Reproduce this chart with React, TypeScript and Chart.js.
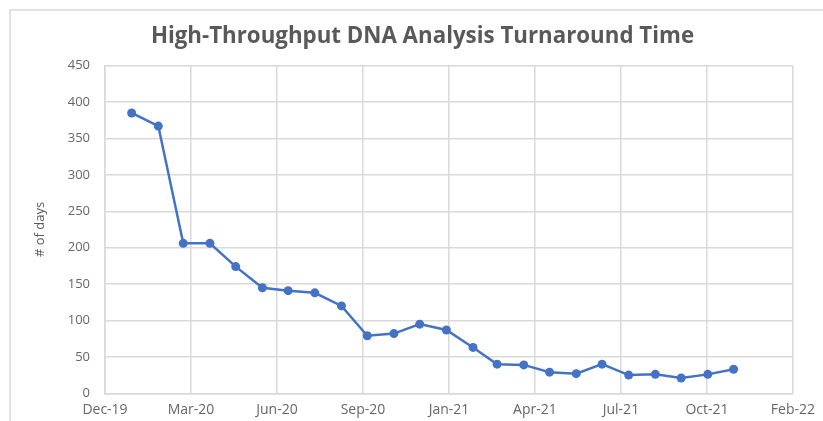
import React, { useEffect, useRef } from "react";
import { Chart, registerables } from "chart.js";

Chart.register(...registerables);

const chartTitle = "High-Throughput DNA Analysis Turnaround Time";
const yAxisTitle = "# of days";

// x axis: Excel date axis starting 1 Dec 2019, major unit 100 days
const axisStartDate = "2019-12-01";
const axisStepDays = 100;
const xTickLabels = ["Dec-19", "Mar-20", "Jun-20", "Sep-20", "Jan-21", "Apr-21", "Jul-21", "Oct-21", "Feb-22"];

const yMin = 0;
const yMax = 450;
const yStep = 50;

const sampleDates = [
  "2020-01-01", "2020-02-01", "2020-03-01", "2020-04-01", "2020-05-01", "2020-06-01",
  "2020-07-01", "2020-08-01", "2020-09-01", "2020-10-01", "2020-11-01", "2020-12-01",
  "2021-01-01", "2021-02-01", "2021-03-01", "2021-04-01", "2021-05-01", "2021-06-01",
  "2021-07-01", "2021-08-01", "2021-09-01", "2021-10-01", "2021-11-01", "2021-12-01",
];

const turnaroundDays = [
  385, 367, 206, 206, 174, 145,
  141, 138, 120, 79, 82, 95,
  87, 63, 40, 39, 29, 27,
  40, 25, 26, 21, 26, 33,
];

const dayOffset = (iso: string) => (Date.parse(iso) - Date.parse(axisStartDate)) / 86400000;

const frameBorder = {
  id: "frameBorder",
  beforeDraw(chart: any) {
    const ctx = chart.ctx;
    ctx.save();
    ctx.strokeStyle = "#d9d9d9";
    ctx.lineWidth = 1.5;
    ctx.beginPath();
    ctx.moveTo(10, chart.height + 5);
    ctx.lineTo(10, 10);
    ctx.lineTo(chart.width + 5, 10);
    ctx.stroke();
    ctx.restore();
  },
};

export default function App() {
  const canvasRef = useRef<HTMLCanvasElement | null>(null);

  useEffect(() => {
    const canvas = canvasRef.current;
    if (!canvas) return;
    const gridColor = "#d9d9d9";
    const tickColor = "#666666";
    const chart = new Chart(canvas, {
      type: "line",
      data: {
        datasets: [
          {
            label: "Turnaround time",
            data: sampleDates.map((d, i) => ({ x: dayOffset(d), y: turnaroundDays[i] })),
            borderColor: "#4472C4",
            backgroundColor: "#4472C4",
            borderWidth: 2.5,
            pointRadius: 4.5,
            pointBorderWidth: 0,
            pointBackgroundColor: "#4472C4",
            tension: 0,
            fill: false,
          },
        ],
      },
      options: {
        animation: false,
        responsive: true,
        maintainAspectRatio: false,
        layout: { padding: { left: 22, right: 0, top: 0, bottom: 0 } },
        plugins: {
          legend: { display: false },
          tooltip: { enabled: false },
          title: {
            display: true,
            text: chartTitle,
            color: "#595959",
            font: { family: "'Open Sans'", size: 22.3, weight: "bold" },
            padding: { top: 23, bottom: 15.9 },
          },
        },
        scales: {
          x: {
            type: "linear",
            min: 0,
            max: axisStepDays * (xTickLabels.length - 1),
            grid: { color: gridColor, lineWidth: 1.5, drawTicks: false },
            border: { color: gridColor, width: 1.5 },
            ticks: {
              stepSize: axisStepDays,
              autoSkip: false,
              maxRotation: 0,
              padding: 8,
              color: tickColor,
              font: { family: "'Open Sans'", size: 14 },
              callback: (_v: any, i: number) => xTickLabels[i] ?? "",
            },
            afterFit: (s: any) => {
              s.height = 27.7;
            },
          },
          y: {
            type: "linear",
            position: "left",
            min: yMin,
            max: yMax,
            grid: { color: gridColor, lineWidth: 1.5, drawTicks: false },
            border: { color: gridColor, width: 1.5 },
            ticks: {
              stepSize: yStep,
              padding: 15,
              color: tickColor,
              font: { family: "'Open Sans'", size: 13 },
            },
            title: {
              display: true,
              text: yAxisTitle,
              color: "#595959",
              font: { family: "'Open Sans'", size: 13 },
              padding: { top: 10, bottom: 0 },
            },
            afterFit: (s: any) => {
              s.width = 83;
            },
          },
          yPad: {
            type: "linear",
            position: "right",
            display: true,
            grid: { display: false, drawTicks: false },
            border: { display: false },
            ticks: { display: false },
            afterFit: (s: any) => {
              s.width = 30;
            },
          },
        },
      } as any,
      plugins: [frameBorder],
    });
    return () => chart.destroy();
  }, []);

  return (
    <div style={{ position: "fixed", left: 0, top: 0, width: 823, height: 421, overflow: "hidden", background: "#fff" }}>
      <canvas ref={canvasRef} />
    </div>
  );
}
